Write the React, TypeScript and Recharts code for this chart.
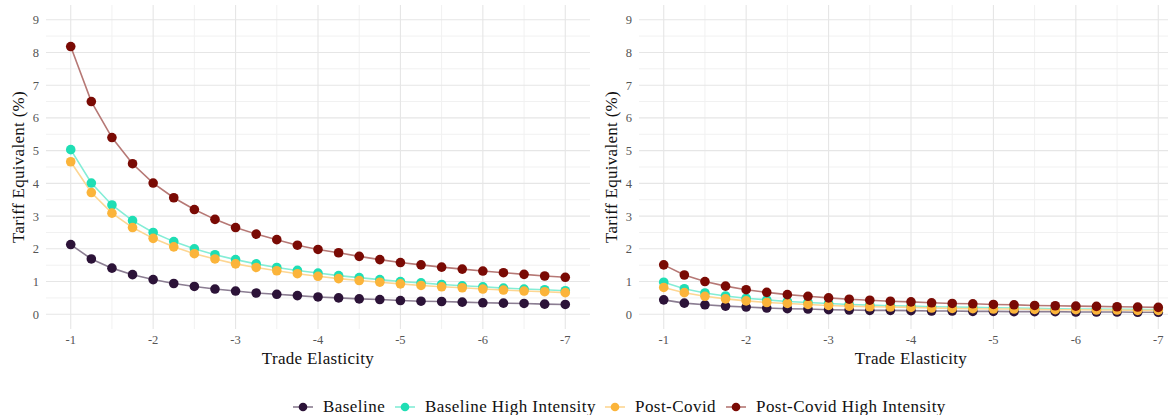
import React from "react";
import { LineChart, Line, XAxis, YAxis, CartesianGrid, Label } from "recharts";

const elasticities = [
    -1, -1.25, -1.5, -1.75, -2, -2.25, -2.5, -2.75, -3, -3.25, -3.5, -3.75, -4,
    -4.25, -4.5, -4.75, -5, -5.25, -5.5, -5.75, -6, -6.25, -6.5, -6.75, -7,
];

// left panel
const leftBaseline = [2.13, 1.69, 1.41, 1.21, 1.06, 0.94, 0.85, 0.77, 0.71, 0.65, 0.61, 0.57, 0.53, 0.5, 0.47, 0.45, 0.42, 0.4, 0.39, 0.37, 0.35, 0.34, 0.33, 0.31, 0.3];
const leftBaselineHigh = [5.03, 4.01, 3.34, 2.86, 2.5, 2.22, 2.0, 1.82, 1.67, 1.54, 1.43, 1.34, 1.26, 1.18, 1.12, 1.06, 1.0, 0.96, 0.91, 0.87, 0.84, 0.8, 0.77, 0.75, 0.72];
const leftPostCovid = [4.66, 3.72, 3.09, 2.65, 2.32, 2.06, 1.85, 1.69, 1.54, 1.43, 1.33, 1.24, 1.16, 1.09, 1.03, 0.98, 0.93, 0.88, 0.84, 0.81, 0.77, 0.74, 0.71, 0.69, 0.66];
const leftPostCovidHigh = [8.18, 6.5, 5.4, 4.6, 4.01, 3.56, 3.2, 2.9, 2.65, 2.45, 2.28, 2.11, 1.98, 1.88, 1.77, 1.67, 1.58, 1.51, 1.44, 1.38, 1.32, 1.27, 1.22, 1.17, 1.13];

// right panel
const rightBaseline = [0.44, 0.34, 0.29, 0.25, 0.22, 0.19, 0.17, 0.16, 0.14, 0.13, 0.12, 0.12, 0.11, 0.1, 0.1, 0.09, 0.09, 0.08, 0.08, 0.08, 0.07, 0.07, 0.07, 0.06, 0.06];
const rightBaselineHigh = [0.98, 0.78, 0.65, 0.56, 0.49, 0.44, 0.39, 0.36, 0.33, 0.3, 0.28, 0.26, 0.25, 0.23, 0.22, 0.21, 0.2, 0.19, 0.18, 0.17, 0.16, 0.16, 0.15, 0.15, 0.14];
const rightPostCovid = [0.82, 0.66, 0.55, 0.47, 0.41, 0.36, 0.33, 0.3, 0.27, 0.25, 0.23, 0.22, 0.21, 0.19, 0.18, 0.17, 0.16, 0.16, 0.15, 0.14, 0.14, 0.13, 0.13, 0.12, 0.12];
const rightPostCovidHigh = [1.51, 1.2, 1.0, 0.86, 0.75, 0.67, 0.6, 0.55, 0.5, 0.46, 0.43, 0.4, 0.38, 0.35, 0.33, 0.32, 0.3, 0.29, 0.27, 0.26, 0.25, 0.24, 0.23, 0.22, 0.21];

const xTicks = [-1, -2, -3, -4, -5, -6, -7];
const xMinor = [-1.5, -2.5, -3.5, -4.5, -5.5, -6.5];
const yTicks = [0, 1, 2, 3, 4, 5, 6, 7, 8, 9];
const yMinor = [0.5, 1.5, 2.5, 3.5, 4.5, 5.5, 6.5, 7.5, 8.5];

const series = [
    { key: "baseline", name: "Baseline", color: "#2c1338", line: "#8b7d92" },
    { key: "baselineHigh", name: "Baseline High Intensity", color: "#1fdeb4", line: "#84edd6" },
    { key: "postCovid", name: "Post-Covid", color: "#fbb43a", line: "#fdd693" },
    { key: "postCovidHigh", name: "Post-Covid High Intensity", color: "#7a0a04", line: "#b67875" },
];

const buildRows = (a: number[], b: number[], c: number[], d: number[]) =>
    elasticities.map((e, i) => ({
        e,
        baseline: a[i],
        baselineHigh: b[i],
        postCovid: c[i],
        postCovidHigh: d[i],
    }));

const leftData = buildRows(leftBaseline, leftBaselineHigh, leftPostCovid, leftPostCovidHigh);
const rightData = buildRows(rightBaseline, rightBaselineHigh, rightPostCovid, rightPostCovidHigh);

const font = "Liberation Serif";

const YTitle = (props: any) => {
    const vb = props.viewBox;
    const cy = vb.y + vb.height / 2;
    return (
        <text
            x={18}
            y={cy}
            transform={`rotate(-90, 18, ${cy})`}
            textAnchor="middle"
            dominantBaseline="central"
            fontFamily={font}
            style={{ fontFamily: font, fontSize: 17, letterSpacing: 0.3 }}
            fill="#111"
        >
            Tariff Equivalent (%)
        </text>
    );
};

const Panel = ({ data, left }: { data: any[]; left: number }) => (
    <div style={{ position: "absolute", left, top: 0, fontFamily: font }}>
        <LineChart width={600} height={370} data={data} margin={{ top: 5, right: 10, left: 0, bottom: 0 }}>
            <CartesianGrid stroke="#f1f1f1" strokeWidth={1} horizontalValues={yMinor} verticalValues={xMinor} />
            <CartesianGrid stroke="#e6e6e6" strokeWidth={1.1} horizontalValues={yTicks} verticalValues={xTicks} />
            <XAxis
                type="number"
                dataKey="e"
                domain={[-7.3, -0.7]}
                reversed
                allowDataOverflow
                ticks={xTicks}
                tickFormatter={(v) => String(v)}
                axisLine={false}
                tickLine={false}
                tickSize={4}
                tickMargin={2}
                height={41}
                tick={{ fill: "#555", fontSize: 12.5, fontFamily: font }}
            >
                <Label
                    value="Trade Elasticity"
                    position="insideBottom"
                    offset={6}
                    fontFamily={font}
                    style={{ fontFamily: font, fontSize: 17, fill: "#111", letterSpacing: 0.3 }}
                />
            </XAxis>
            <YAxis
                type="number"
                domain={[-0.45, 9.45]}
                allowDataOverflow
                ticks={yTicks}
                axisLine={false}
                tickLine={false}
                tickSize={4}
                tickMargin={3}
                width={46}
                tick={{ fill: "#555", fontSize: 12.5, fontFamily: font }}
            >
                <Label content={YTitle} />
            </YAxis>
            {series.map((s) => (
                <Line
                    key={s.key}
                    type="linear"
                    dataKey={s.key}
                    stroke={s.line}
                    strokeWidth={1.6}
                    dot={{ r: 4.8, fill: s.color, stroke: s.color, strokeWidth: 0 }}
                    activeDot={false}
                    isAnimationActive={false}
                />
            ))}
        </LineChart>
    </div>
);

// legend item positions along the bottom
const legendX = [293, 395, 605, 726];

const Legend = () => (
    <div style={{ position: "absolute", left: 0, top: 396, width: 1168, height: 22 }}>
        {series.map((s, i) => (
            <div
                key={s.key}
                style={{
                    position: "absolute",
                    left: legendX[i],
                    top: 0,
                    height: 22,
                    display: "flex",
                    alignItems: "center",
                    whiteSpace: "nowrap",
                }}
            >
                <svg width={20} height={22}>
                    <line x1={0} y1={11} x2={20} y2={11} stroke={s.line} strokeWidth={1.6} />
                    <circle cx={10} cy={11} r={4.3} fill={s.color} />
                </svg>
                <span style={{ marginLeft: 10, fontFamily: font, fontSize: 17, letterSpacing: 0.45, color: "#111" }}>
                    {s.name}
                </span>
            </div>
        ))}
    </div>
);

export default function App() {
    return (
        <div
            style={{
                position: "absolute",
                left: 0,
                top: 0,
                width: 1168,
                height: 415,
                overflow: "hidden",
                background: "#fff",
                fontFamily: font,
            }}
        >
            <Panel data={leftData} left={0} />
            <Panel data={rightData} left={593} />
            <Legend />
        </div>
    );
}
